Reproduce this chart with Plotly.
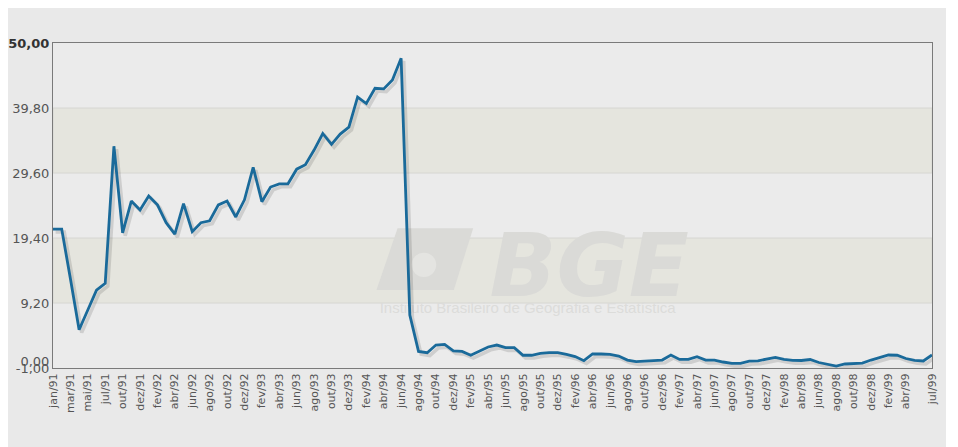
import plotly.graph_objects as go

# monthly series, jan/91 .. jul/99 (ago/91 not in the series)
month_names = ['jan', 'fev', 'mar', 'abr', 'mai', 'jun', 'jul', 'ago', 'set', 'out', 'nov', 'dez']
months = [f"{m}/{y:02d}" for y in range(91, 100) for m in month_names]
months = [m for m in months if m != 'ago/91']
months = months[:months.index('jul/99') + 1]

values = [
    20.8, 20.8, 13.0, 5.0, 8.1, 11.2, 12.3, 33.8, 20.2, 25.2,
    23.8, 26.0, 24.6, 21.8, 20.0, 24.8, 20.4, 21.8, 22.1, 24.6,
    25.2, 22.7, 25.4, 30.5, 25.1, 27.4, 27.9, 27.9, 30.2, 30.9,
    33.2, 35.8, 34.1, 35.7, 36.8, 41.5, 40.5, 42.9, 42.8, 44.2,
    47.6, 7.3, 1.6, 1.4, 2.6, 2.7, 1.7, 1.6, 1.0, 1.6,
    2.3, 2.6, 2.2, 2.2, 1.0, 1.0, 1.3, 1.4, 1.4, 1.15,
    0.8, 0.15, 1.2, 1.2, 1.15, 0.88, 0.25, 0.0, 0.1, 0.15,
    0.25, 1.04, 0.35, 0.35, 0.77, 0.25, 0.25, -0.06, -0.26, -0.26,
    0.07, 0.13, 0.41, 0.65, 0.37, 0.2, 0.18, 0.33, -0.14, -0.45,
    -0.69, -0.37, -0.26, -0.22, 0.25, 0.65, 1.04, 1.0, 0.49, 0.18,
    0.1, 1.04,
]

# every second month is labelled, plus the last one (jun/99 is skipped)
tick_labels = [m for i, m in enumerate(months) if i % 2 == 0 and i < len(months) - 2] + [months[-1]]
y_ticks = [-1.0, 0.0, 9.2, 19.4, 29.6, 39.8, 50.0]
y_ticktext = ['-1,00', '0,00', '9,20', '19,40', '29,60', '39,80',
              '<span style="color:#333333"><b>50,00</b></span>']
bands = [(9.2, 19.4), (29.6, 39.8)]

x = list(range(len(months)))
tick_idx = [months.index(m) for m in tick_labels]

fig = go.Figure()

# soft drop shadow under the line
fig.add_trace(go.Scatter(
    x=[v + 0.3 for v in x], y=[v - 0.45 for v in values],
    mode='lines', line=dict(color='rgba(0,0,0,0.12)', width=3.5),
    hoverinfo='skip', showlegend=False
))

fig.add_trace(go.Scatter(
    x=x, y=values, mode='lines',
    line=dict(color='#1a6a9a', width=2.8),
    showlegend=False
))

# beige bands
for y0, y1 in bands:
    fig.add_shape(type='rect', xref='paper', yref='y',
                  x0=0, x1=1, y0=y0, y1=y1,
                  fillcolor='#e5e5de', line=dict(color='#d6d6d2', width=1), layer='below')

# IBGE watermark
fig.add_shape(type='path', xref='paper', yref='paper',
              path='M 0.392 0.43 L 0.478 0.43 L 0.456 0.24 L 0.368 0.24 Z',
              fillcolor='#dadad7', line_width=0, layer='below')
fig.add_shape(type='circle', xref='paper', yref='paper',
              x0=0.408, x1=0.436, y0=0.28, y1=0.355,
              fillcolor='#e4e4e1', line_width=0, layer='below')
fig.add_shape(type='rect', xref='paper', yref='paper',
              x0=0.47, x1=0.75, y0=0.23, y1=0.44,
              fillcolor='rgba(0,0,0,0)', line_width=0, layer='below',
              label=dict(text='BGE', font=dict(family='DejaVu Sans', size=88, color='#dadad7',
                                               weight='bold', style='italic'),
                         textposition='middle center'))
fig.add_shape(type='rect', xref='paper', yref='paper',
              x0=0.29, x1=0.79, y0=0.14, y1=0.24,
              fillcolor='rgba(0,0,0,0)', line_width=0, layer='below',
              label=dict(text='Instituto Brasileiro de Geografia e Estatística',
                         font=dict(family='Liberation Sans', size=15, color='#dcdcda'),
                         textposition='middle center'))

fig.update_layout(
    width=938, height=447,
    margin=dict(l=45, r=14, t=35, b=87),
    paper_bgcolor='#e9e9e9',
    plot_bgcolor='#ebebeb',
    font=dict(family='DejaVu Sans', color='#555555'),
    xaxis=dict(
        range=[0, len(months) - 1],
        tickmode='array', tickvals=tick_idx, ticktext=tick_labels,
        tickangle=-90, tickfont=dict(size=11, color='#555555'),
        showgrid=False, zeroline=False, automargin=False,
        showline=True, linecolor='#7a7a7a', linewidth=1, mirror=True,
        ticks=''
    ),
    yaxis=dict(
        range=[-1, 50],
        tickmode='array', tickvals=y_ticks, ticktext=y_ticktext,
        tickfont=dict(size=13, color='#555555'),
        showgrid=False, zeroline=False, automargin=False,
        showline=True, linecolor='#7a7a7a', linewidth=1, mirror=True,
        ticks=''
    ),
)

fig.write_html("out.html")
